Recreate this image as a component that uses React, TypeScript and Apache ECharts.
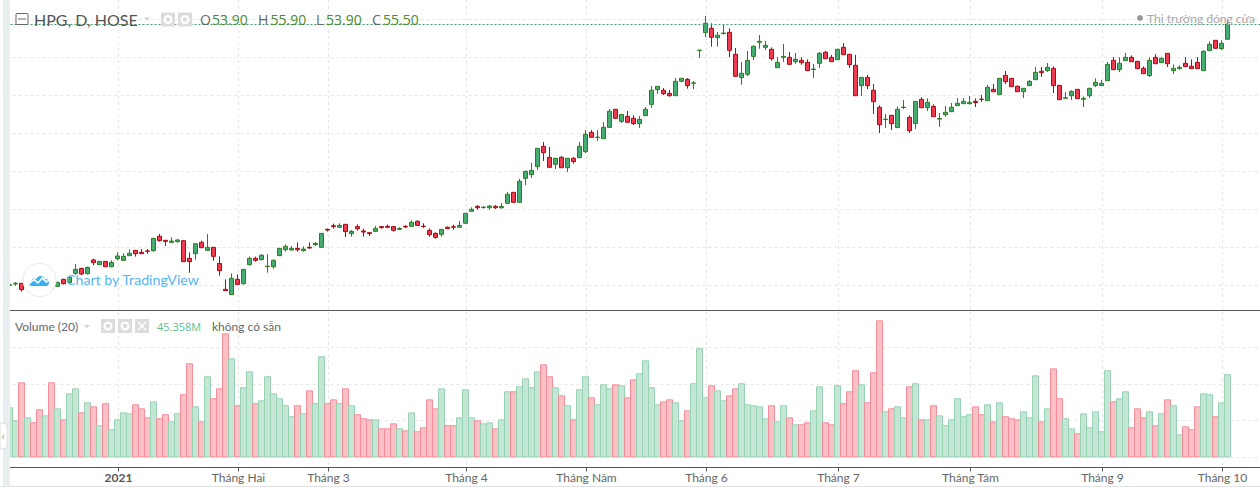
import React, { useEffect, useRef } from "react";
import * as echarts from "echarts";

const opens = [
  28.00,28.14,28.21,27.86,28.00,27.86,27.93,27.86,27.89,28.63,
  28.28,29.26,29.78,29.22,30.67,30.17,30.52,29.96,30.80,30.63,
  31.12,31.68,31.47,31.62,31.65,33.16,32.74,32.52,32.60,32.70,
  30.84,31.33,32.52,31.68,32.00,30.31,27.58,27.02,28.63,28.17,
  30.17,30.84,30.70,29.98,29.96,31.12,31.75,31.72,31.89,31.65,
  32.00,32.28,32.00,33.89,34.28,34.11,34.42,33.44,34.18,33.72,
  33.54,33.68,34.18,34.21,34.18,33.89,34.21,34.21,34.74,34.23,
  33.79,33.47,33.37,34.11,34.16,34.11,34.53,35.79,36.31,36.19,
  36.17,36.31,36.17,36.63,37.79,36.74,39.26,39.65,40.49,42.63,
  41.47,40.74,41.47,40.38,41.37,41.44,42.07,44.10,43.56,43.44,
  44.63,46.53,45.26,45.79,45.58,45.02,45.86,47.05,48.60,48.53,
  48.21,47.96,49.47,49.68,49.27,52.73,54.60,55.05,54.07,54.51,
  54.63,52.32,49.86,50.21,52.10,53.58,53.05,52.84,50.91,52.00,
  52.00,51.54,51.68,51.47,50.72,51.37,52.53,52.00,51.75,53.05,
  52.32,51.16,49.02,49.89,48.53,46.74,45.45,45.89,44.60,46.72,
  45.68,45.02,47.58,46.70,46.84,45.50,45.96,46.28,46.91,47.12,
  47.12,47.37,47.60,47.44,48.63,48.07,50.10,49.79,48.95,48.38,
  49.02,49.65,50.53,50.60,50.84,49.05,47.70,47.96,48.63,47.58,
  47.96,49.02,49.02,49.54,51.68,50.70,51.65,52.00,51.58,50.84,
  50.07,52.00,51.44,52.42,50.60,50.81,51.37,51.05,51.47,50.60,
  52.70,53.79,52.91,53.90,
];
const closes = [
  28.07,28.21,27.54,28.04,27.79,27.65,28.14,27.65,28.31,28.17,
  28.84,29.68,29.19,29.89,30.39,30.52,29.96,30.42,31.09,31.05,
  31.37,31.33,31.33,31.58,32.95,32.70,32.63,32.66,32.77,30.49,
  30.49,32.38,31.96,32.00,31.05,29.54,27.44,28.74,28.10,29.68,
  30.84,30.63,31.16,30.01,30.63,31.89,32.10,31.89,31.75,31.82,
  31.93,32.42,33.47,33.82,34.18,34.31,33.65,33.68,33.96,33.61,
  33.44,33.99,34.07,34.11,33.79,33.99,34.14,34.63,34.31,34.19,
  33.33,33.05,33.89,33.96,34.12,34.31,35.58,36.00,36.17,36.22,
  36.35,36.17,36.31,37.58,36.74,38.95,40.00,40.10,42.42,41.96,
  40.42,41.37,40.38,41.37,41.02,42.63,43.89,43.58,43.60,44.63,
  46.32,45.58,45.99,45.16,45.02,45.47,46.53,48.53,48.95,48.17,
  47.96,49.47,49.79,49.02,49.31,52.75,55.58,54.11,54.32,54.55,
  52.74,50.00,50.32,51.68,53.16,53.68,53.26,51.86,51.47,52.10,
  51.26,51.79,51.44,50.60,50.76,52.42,51.86,51.54,52.84,52.28,
  51.23,47.96,49.89,49.02,47.33,44.91,45.49,45.02,46.53,46.75,
  44.28,47.37,46.70,47.26,45.75,45.56,46.21,46.74,47.16,47.37,
  47.26,47.23,47.56,48.84,48.38,49.79,49.44,48.91,48.38,48.74,
  49.47,50.42,50.39,50.95,49.02,47.54,47.75,48.42,47.65,47.68,
  48.74,49.37,49.26,51.26,50.70,51.37,52.00,51.54,50.81,50.28,
  51.68,51.33,51.89,51.33,50.84,50.95,51.02,50.81,50.81,52.63,
  53.37,52.95,53.47,55.50,
];
const lows = [
  27.93,27.96,27.33,27.79,27.70,27.55,27.85,27.55,27.85,28.10,
  28.20,29.10,29.08,29.15,30.10,30.12,29.93,29.89,30.63,30.59,
  31.09,31.02,31.30,31.33,31.54,32.60,32.14,32.49,32.49,30.45,
  29.33,30.70,31.93,31.65,30.59,29.01,27.42,27.00,28.03,28.07,
  30.07,30.49,30.63,29.33,29.75,31.09,31.54,31.65,31.54,31.54,
  31.86,32.14,31.97,33.65,33.96,34.07,33.09,33.12,33.75,33.12,
  33.19,33.65,33.96,34.04,33.65,33.82,34.04,34.14,34.25,34.04,
  33.12,32.91,33.12,33.93,33.86,34.07,34.49,35.75,35.96,36.07,
  35.96,36.03,36.07,36.60,36.70,36.70,38.56,39.30,40.14,41.09,
  40.38,40.24,40.35,39.93,40.81,41.40,41.93,43.54,43.19,43.40,
  44.60,45.54,45.09,45.12,44.88,44.56,45.82,46.70,48.14,48.03,
  47.86,47.93,49.44,48.70,48.66,51.93,54.14,53.12,53.12,54.39,
  52.03,49.96,49.12,50.03,51.72,52.91,52.77,51.65,50.89,51.51,
  51.23,51.33,51.23,50.56,49.82,50.88,51.82,51.51,51.72,52.25,
  50.88,47.93,47.93,48.66,46.03,44.03,44.56,44.35,44.56,46.56,
  44.03,44.46,46.67,46.35,45.72,44.67,45.75,46.25,46.88,47.09,
  47.05,46.77,47.30,47.40,48.35,48.03,49.19,48.87,48.35,47.72,
  48.98,49.61,49.93,50.46,48.25,47.51,47.61,47.51,47.61,46.77,
  47.72,48.88,48.98,49.51,50.67,50.46,51.61,51.51,50.77,50.25,
  49.93,51.30,51.40,50.98,50.25,50.70,50.98,50.77,50.77,50.56,
  52.67,52.91,52.77,53.90,
];
const highs = [
  28.17,28.35,28.25,28.14,28.05,27.95,28.20,27.90,28.39,28.70,
  29.00,30.24,29.85,29.96,30.80,30.56,30.56,30.63,31.47,31.37,
  31.79,31.72,31.82,31.82,32.98,33.40,32.77,33.05,32.88,32.74,
  31.47,32.42,32.70,33.40,32.03,31.05,28.63,29.26,29.15,29.72,
  31.02,31.02,31.30,31.26,30.73,31.93,32.31,32.14,32.52,32.10,
  32.52,32.56,33.50,33.99,34.49,34.53,34.46,33.82,34.42,33.96,
  33.61,34.25,34.25,34.39,34.25,34.11,34.35,34.84,34.84,34.53,
  33.99,33.58,33.92,34.21,34.39,34.77,35.60,36.21,36.45,36.35,
  36.45,36.45,36.66,37.82,37.82,39.23,40.07,40.88,42.45,43.09,
  42.56,41.40,41.61,41.40,41.51,43.09,44.35,44.35,44.35,45.19,
  46.56,46.56,46.02,46.35,45.89,45.82,46.77,48.98,48.98,48.77,
  48.56,49.82,49.82,49.82,49.51,52.76,56.35,55.58,54.67,55.40,
  55.05,52.98,51.51,52.67,53.26,54.35,53.72,53.05,52.03,53.40,
  52.56,52.46,52.03,51.79,51.30,52.56,52.67,52.25,52.91,53.51,
  52.35,52.25,49.93,50.14,49.19,46.95,46.03,45.96,46.84,47.51,
  45.89,47.40,47.79,47.68,47.05,46.14,46.88,47.19,47.72,47.72,
  47.93,47.68,48.03,49.09,49.19,49.82,50.56,49.82,49.05,48.77,
  49.61,51.00,50.98,51.40,51.05,49.07,48.35,48.53,48.66,47.89,
  48.77,49.79,49.61,51.51,52.03,52.00,52.46,52.21,51.60,51.05,
  52.00,52.32,52.00,52.44,51.26,51.16,52.03,51.79,52.03,52.74,
  53.68,53.80,53.79,55.90,
];
// Volume, in millions of shares
const volumes = [
  27.3,20.2,40.9,21.8,19.1,26.2,22.9,40.9,26.7,20.7,
  34.9,37.6,24.5,30.0,27.8,17.5,29.5,15.3,20.7,24.5,
  24.0,28.9,26.7,21.8,30.5,21.3,23.5,19.6,24.0,34.4,
  51.3,27.8,19.6,44.2,32.2,37.6,67.6,54.0,28.4,38.2,
  46.9,29.5,31.1,44.2,34.9,32.2,28.4,22.4,28.4,24.0,
  36.5,29.5,55.1,29.5,31.6,29.5,37.6,28.4,23.5,21.3,
  20.7,20.7,15.8,15.8,18.5,15.8,14.7,24.5,14.2,16.4,
  31.6,26.7,37.6,17.5,17.5,21.8,37.1,21.8,20.2,18.5,
  19.1,15.8,20.7,36.0,36.0,38.7,43.1,38.2,46.9,50.7,
  44.2,38.2,33.8,28.4,20.7,37.1,44.2,32.7,28.9,39.8,
  37.6,39.8,39.3,32.7,42.5,45.8,52.9,38.2,28.9,30.5,
  31.6,30.0,20.2,25.6,40.4,59.5,32.7,39.3,36.5,31.1,
  33.8,37.6,40.4,28.9,28.4,27.8,21.3,28.4,19.6,28.4,
  21.8,18.0,18.0,19.1,25.6,38.7,19.1,18.0,39.3,29.5,
  36.0,47.5,39.8,30.0,46.4,74.7,25.1,26.7,27.8,21.8,
  38.7,40.4,20.7,20.7,28.4,22.9,17.5,20.7,32.2,22.4,
  23.5,27.8,23.5,28.9,19.6,30.0,22.4,21.3,20.7,25.1,
  21.8,44.7,19.6,26.7,48.5,32.2,21.3,15.8,13.1,24.0,
  16.4,25.1,14.2,47.5,30.5,32.2,36.0,16.4,26.7,21.8,
  25.1,17.5,24.0,31.6,28.4,12.5,16.9,15.3,27.8,34.9,
  34.4,22.4,30.0,45.36,
];
const tickIndexes = [18, 38, 53, 76, 96, 116, 138, 160, 182, 202];
const tickLabels = ["2021", "Tháng Hai", "Tháng 3", "Tháng 4", "Tháng Năm", "Tháng 6", "Tháng 7", "Tháng Tám", "Tháng 9", "Tháng 10"];
const priceTicks = [28, 32, 36, 40, 44, 48, 52, 56];
const volumeTicks = [0, 20, 40, 60];

const SESSIONS = 210;
const categories = Array.from({ length: SESSIONS }, (_, i) => String(i));

const FONT = "Lato, 'Open Sans', sans-serif";
const NUM_FONT = "'Open Sans', sans-serif";
const UP = "#45ad72";
const UP_EDGE = "#2f7d22";
const DOWN = "#ee3b50";
const DOWN_EDGE = "#a60d18";
const GRID = "#e6e6e6";
const ICON = "#dcdcdc";

echarts.graphic.registerShape(
  "tvCloud",
  echarts.graphic.extendPath(
    "M8 38 C0 38 -2 27 7 24 C7 15 18 13 22 18 C26 5 44 5 47 18 C56 15 64 26 59 32 C58 37 55 38 50 38 Z",
    {}
  )
);

const txt = (x: number, y: number, text: string, fill: string, fontSize: number, fontFamily: string = FONT) => ({
  type: "text",
  x,
  y,
  z: 100,
  style: { text, fill, fontSize, fontFamily, verticalAlign: "middle" },
});
const box = (x: number, y: number) => ({
  type: "rect",
  z: 100,
  shape: { x, y, width: 14, height: 14 },
  style: { fill: ICON },
});
const ring = (cx: number, cy: number) => ({
  type: "ring",
  z: 101,
  shape: { cx, cy, r: 4.5, r0: 2.2 },
  style: { fill: "#fff" },
});

export default function App() {
  const ref = useRef<HTMLDivElement>(null);

  useEffect(() => {
    document.body.style.margin = "0";
    const chart = echarts.init(ref.current!, null, { renderer: "svg" });

    const candleData = opens.map((o, i) => [o, closes[i], lows[i], highs[i]]);
    const volumeData = volumes.map((v, i) => ({
      value: v,
      itemStyle:
        closes[i] >= opens[i]
          ? { color: "#c4e6d4", borderColor: "#97d3b2" }
          : { color: "#f9c0c5", borderColor: "#f38e9a" },
    }));

    const isTick = (index: number) => tickIndexes.includes(index);

    chart.setOption({
      animation: false,
      backgroundColor: "#fff",
      grid: [
        { left: 6.5, top: 0, width: 1260, height: 310.5 },
        { left: 6.5, top: 311, width: 1260, height: 156 },
        { left: 10.5, top: 0, width: 1254, height: 467.5 },
      ],
      xAxis: [
        { type: "category", gridIndex: 0, data: categories, show: false },
        { type: "category", gridIndex: 1, data: categories, show: false },
        {
          type: "category",
          gridIndex: 2,
          data: categories,
          boundaryGap: false,
          axisLine: { show: true, lineStyle: { color: "#555", width: 1 } },
          axisTick: { show: true, length: 4, interval: isTick, lineStyle: { color: "#555" } },
          splitLine: { show: true, interval: isTick, lineStyle: { color: GRID, type: [3, 3] } },
          axisLabel: {
            interval: isTick,
            margin: 4,
            color: "#666",
            fontSize: 12,
            fontFamily: FONT,
            formatter: (_: string, index: number) => {
              const k = tickIndexes.indexOf(index);
              if (k < 0) return "";
              return index === tickIndexes[0] ? `{b|${tickLabels[k]}}` : tickLabels[k];
            },
            rich: { b: { fontWeight: "bold", color: "#555", fontSize: 12, fontFamily: FONT } },
          },
        },
      ],
      yAxis: [
        {
          type: "value",
          gridIndex: 0,
          min: 25.35,
          max: 58.035,
          axisLine: { show: false },
          axisLabel: { show: false },
          axisTick: { show: false, customValues: priceTicks },
          splitLine: { show: true, lineStyle: { color: GRID, type: [3, 3] } },
        },
        {
          type: "value",
          gridIndex: 1,
          min: -5.29,
          max: 79.8,
          axisLine: { show: false },
          axisLabel: { show: false },
          axisTick: { show: false, customValues: volumeTicks },
          splitLine: { show: true, lineStyle: { color: GRID, type: [3, 3] } },
        },
        { type: "value", gridIndex: 2, show: false },
      ],
      series: [
        {
          type: "candlestick",
          name: "HPG",
          xAxisIndex: 0,
          yAxisIndex: 0,
          barWidth: 4,
          data: candleData,
          itemStyle: {
            color: UP,
            color0: DOWN,
            borderColor: UP_EDGE,
            borderColor0: DOWN_EDGE,
            borderWidth: 1,
          },
          markLine: {
            silent: true,
            symbol: "none",
            label: { show: false },
            lineStyle: { color: "#3f9c6e", type: [2, 2], width: 1 },
            data: [{ yAxis: closes[closes.length - 1] }],
          },
        },
        {
          type: "bar",
          name: "Volume",
          xAxisIndex: 1,
          yAxisIndex: 1,
          barCategoryGap: "0%",
          barMinWidth: 7,
          data: volumeData,
          itemStyle: { borderWidth: 1 },
        },
      ],
      graphic: [
        // left strip, panel divider and page edge
        { type: "rect", z: 90, shape: { x: 3, y: 0, width: 7, height: 487 }, style: { fill: "#e9eef1" } },
        { type: "rect", z: 90, shape: { x: 0, y: 0, width: 3, height: 487 }, style: { fill: "#fff" } },
        { type: "rect", z: 90, shape: { x: 0, y: 486, width: 1260, height: 1 }, style: { fill: "#e2e2e2" } },
        { type: "line", z: 90, shape: { x1: 10, y1: 310.5, x2: 1260, y2: 310.5 }, style: { stroke: "#555", lineWidth: 1 } },
        { type: "rect", z: 91, shape: { x: 0, y: 423, width: 7, height: 26, r: [0, 4, 4, 0] }, style: { fill: "#fff", stroke: "#e0e0e0" } },
        txt(1.5, 435.5, "‹", "#999", 12),

        // main legend
        { type: "rect", z: 100, shape: { x: 16, y: 13.5, width: 12, height: 11, r: 1 }, style: { fill: "#fff", stroke: "#666" } },
        { type: "line", z: 100, shape: { x1: 18, y1: 19, x2: 26, y2: 19 }, style: { stroke: "#666" } },
        txt(34, 19, "HPG, D, HOSE", "#555", 16),
        { type: "polygon", z: 100, shape: { points: [[144, 17.5], [150, 17.5], [147, 20.5]] }, style: { fill: "#d0d0d0" } },
        box(161, 12.5),
        box(178, 12.5),
        ring(168, 19.5),
        ring(185, 19.5),
        txt(200, 19.5, "O", "#666", 14, NUM_FONT),
        txt(212, 19.5, "53.90", "#4a8a2e", 14, NUM_FONT),
        txt(258, 19.5, "H", "#666", 14, NUM_FONT),
        txt(270.5, 19.5, "55.90", "#4a8a2e", 14, NUM_FONT),
        txt(316, 19.5, "L", "#666", 14, NUM_FONT),
        txt(326, 19.5, "53.90", "#4a8a2e", 14, NUM_FONT),
        txt(372, 19.5, "C", "#666", 14, NUM_FONT),
        txt(383, 19.5, "55.50", "#4a8a2e", 14, NUM_FONT),
        { type: "circle", z: 100, shape: { cx: 1140, cy: 18, r: 3 }, style: { fill: "#999" } },
        txt(1147, 18, "Thị trường đóng cửa", "#a8a8a8", 12),

        // TradingView mark
        { type: "circle", z: 100, shape: { cx: 39.5, cy: 280, r: 16.5 }, style: { fill: "#fff", stroke: "#e8e8e8" } },
        { type: "tvCloud", z: 101, x: 29, y: 273.3, scaleX: 1 / 3, scaleY: 1 / 3, style: { fill: "#3bb0f0" } },
        {
          type: "polyline",
          z: 102,
          x: 29,
          y: 273.3,
          scaleX: 1 / 3,
          scaleY: 1 / 3,
          shape: { points: [[0, 31], [15, 19], [27, 29], [40, 14], [52, 26], [62, 20]] },
          style: { stroke: "#fff", lineWidth: 5, fill: "none" },
        },
        txt(66, 279.5, "Chart by TradingView", "#5ab4f2", 14.2),

        // volume legend
        txt(15, 326, "Volume (20)", "#666", 12),
        { type: "polygon", z: 100, shape: { points: [[84, 325], [90, 325], [87, 328]] }, style: { fill: "#d0d0d0" } },
        box(101, 319),
        box(118, 319),
        box(135, 319),
        ring(108, 326),
        ring(125, 326),
        { type: "line", z: 101, shape: { x1: 138, y1: 322, x2: 146, y2: 330 }, style: { stroke: "#fff", lineWidth: 1.5 } },
        { type: "line", z: 101, shape: { x1: 146, y1: 322, x2: 138, y2: 330 }, style: { stroke: "#fff", lineWidth: 1.5 } },
        txt(157, 326, "45.358M", "#62bd93", 11, NUM_FONT),
        txt(212, 326, "không có sẵn", "#666", 12),
      ],
    });

    return () => chart.dispose();
  }, []);

  return (
    <div style={{ width: 1260, height: 487, overflow: "hidden" }}>
      <div ref={ref} style={{ width: 1280, height: 487 }} />
    </div>
  );
}
